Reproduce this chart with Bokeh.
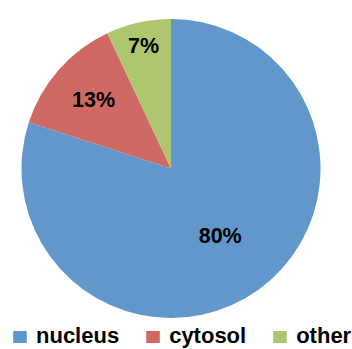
import math
from bokeh.plotting import figure
from bokeh.models import Range1d, ColumnDataSource, Legend, LegendItem
from bokeh.core.properties import value
from bokeh.embed import file_html
from bokeh.resources import INLINE

# ---- data ----
categories = ["nucleus", "cytosol", "other"]
percent = [80, 13, 7]
labels = ["80%", "13%", "7%"]
colors = ["#6197CB", "#CE6A63", "#AEC76E"]

# ---- layout (pixels, window 352x349) ----
W, H = 352, 349
cx, cy, R = 170.5, H - 168.0, 149.5
label_r = [0.56, 0.69, 0.84]
FONT = "Liberation Sans"

total = float(sum(percent))
starts, ends, lx, ly = [], [], [], []
cum = 0.0
for i, v in enumerate(percent):
    a0 = math.pi / 2 - 2 * math.pi * cum / total
    cum += v
    a1 = math.pi / 2 - 2 * math.pi * cum / total
    starts.append(a0)
    ends.append(a1)
    mid = (a0 + a1) / 2
    lx.append(cx + label_r[i] * R * math.cos(mid))
    ly.append(cy + label_r[i] * R * math.sin(mid))

src = ColumnDataSource(dict(cat=categories, start=starts, end=ends, color=colors,
                            x=[cx] * 3, y=[cy] * 3, lx=lx, ly=ly, lab=labels))

p = figure(width=W, height=H, x_range=Range1d(0, W), y_range=Range1d(0, H),
           output_backend="svg", toolbar_location=None, min_border=0)
p.axis.visible = False
p.grid.visible = False
p.outline_line_color = None
p.background_fill_color = "white"
p.border_fill_color = "white"

r = p.wedge(x="x", y="y", radius=R, radius_units="data", start_angle="start", end_angle="end",
            direction="clock", fill_color="color", line_color=None, source=src)

p.text(x="lx", y="ly", text="lab", source=src, text_align="center", text_baseline="middle",
       text_font=value(FONT), text_font_style="bold", text_font_size="21.5px", text_color="black")

items = [LegendItem(label=c, renderers=[r], index=i) for i, c in enumerate(categories)]
legend = Legend(items=items, orientation="horizontal", location=(11, 0),
                label_text_font=FONT, label_text_font_style="bold", label_text_font_size="22px",
                label_text_color="black", glyph_width=17, glyph_height=15, label_standoff=8,
                spacing=25, padding=0, margin=0, border_line_color=None, background_fill_alpha=0)
p.add_layout(legend, "center")

open("out.html", "w").write(file_html(p, INLINE))
